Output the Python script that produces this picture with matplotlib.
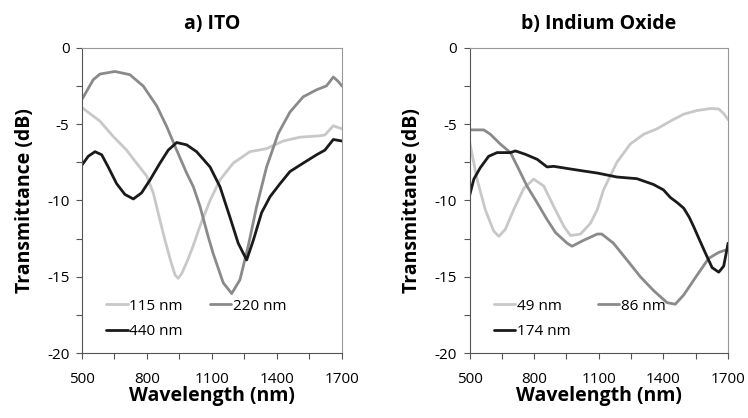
import numpy as np
import matplotlib
matplotlib.use("Agg")
import matplotlib.pyplot as plt
from matplotlib.ticker import FixedLocator

plt.rcParams['font.family'] = ['Open Sans', 'DejaVu Sans']
plt.rcParams['axes.unicode_minus'] = False

# ---- a) ITO ----
wl_115 = [500, 503, 583, 644, 706, 752, 799, 829, 860, 883, 910, 930, 944, 960, 985, 1010,
          1044, 1091, 1137, 1198, 1275, 1352, 1429, 1506, 1598, 1621, 1660, 1700]
t_115 = [-4.0, -3.94, -4.8, -5.8, -6.7, -7.55, -8.4, -9.5, -11.3, -12.6, -14.0, -14.9,
         -15.1, -14.8, -14.0, -13.1, -11.7, -10.0, -8.65, -7.55, -6.8, -6.6, -6.1, -5.85,
         -5.76, -5.7, -5.1, -5.3]

wl_220 = [500, 503, 552, 583, 652, 721, 783, 845, 891, 937, 983, 1014, 1045, 1083, 1106,
          1152, 1191, 1229, 1267, 1306, 1352, 1406, 1460, 1521, 1583, 1629, 1660, 1683, 1700]
t_220 = [-3.3, -3.3, -2.08, -1.71, -1.54, -1.75, -2.5, -3.8, -5.15, -6.7, -8.2, -9.1,
         -10.4, -12.4, -13.5, -15.4, -16.1, -15.2, -13.0, -10.4, -7.8, -5.6, -4.2, -3.2,
         -2.74, -2.48, -1.9, -2.2, -2.5]

wl_440 = [500, 529, 560, 591, 621, 660, 698, 737, 775, 814, 860, 898, 937, 983, 1029,
          1091, 1137, 1183, 1221, 1260, 1291, 1329, 1368, 1414, 1460, 1521, 1583, 1621,
          1660, 1700]
t_440 = [-7.67, -7.1, -6.8, -7.0, -7.8, -8.9, -9.6, -9.9, -9.5, -8.65, -7.55, -6.7, -6.2,
         -6.35, -6.8, -7.8, -9.1, -11.1, -12.8, -13.9, -12.6, -10.8, -9.75, -8.9, -8.1,
         -7.55, -7.0, -6.7, -6.0, -6.1]

# ---- b) Indium Oxide ----
wl_49 = [501, 535, 573, 612, 636, 666, 705, 752, 798, 845, 891, 938, 969, 1015, 1061,
         1093, 1122, 1184, 1246, 1308, 1370, 1432, 1494, 1556, 1618, 1657, 1680, 1700]
t_49 = [-6.2, -8.6, -10.6, -12.0, -12.35, -11.9, -10.6, -9.2, -8.6, -9.06, -10.4, -11.7,
        -12.3, -12.2, -11.5, -10.6, -9.3, -7.5, -6.3, -5.66, -5.3, -4.8, -4.34, -4.1,
        -3.97, -4.0, -4.3, -4.7]

wl_86 = [500, 566, 597, 643, 690, 729, 767, 814, 860, 899, 953, 976, 1031, 1093, 1114,
         1168, 1231, 1293, 1354, 1417, 1455, 1494, 1556, 1610, 1657, 1700]
t_86 = [-5.37, -5.37, -5.66, -6.3, -6.86, -7.96, -9.06, -10.15, -11.25, -12.1, -12.8,
        -13.0, -12.6, -12.2, -12.2, -12.8, -13.9, -15.0, -15.9, -16.7, -16.8, -16.2, -14.9,
        -13.8, -13.4, -13.2]

wl_174 = [500, 520, 550, 589, 628, 690, 713, 759, 814, 860, 891, 953, 1031, 1093, 1184,
          1277, 1354, 1400, 1432, 1465, 1494, 1520, 1540, 1565, 1587, 1626, 1657, 1680,
          1695, 1700]
t_174 = [-9.7, -8.6, -7.85, -7.1, -6.86, -6.86, -6.75, -6.97, -7.3, -7.8, -7.76, -7.9,
         -8.07, -8.2, -8.46, -8.57, -8.95, -9.3, -9.8, -10.15, -10.5, -11.1, -11.7, -12.5,
         -13.2, -14.4, -14.7, -14.3, -13.2, -12.8]

x_major = [500, 800, 1100, 1400, 1700]
x_minor = [650, 950, 1250, 1550]
y_major = [0, -5, -10, -15, -20]
y_minor = [-2.5, -7.5, -12.5, -17.5]

light, mid, dark = '#c8c8c8', '#8a8a8a', '#1a1a1a'

fig = plt.figure(figsize=(7.48, 4.18), dpi=100)
ax1 = fig.add_axes([0.1096, 0.1555, 0.3476, 0.7297])
ax2 = fig.add_axes([0.6277, 0.1555, 0.3456, 0.7297])

panels = [
    (ax1, 'a) ITO', [(wl_115, t_115, light, '115 nm'), (wl_220, t_220, mid, '220 nm'),
                     (wl_440, t_440, dark, '440 nm')]),
    (ax2, 'b) Indium Oxide', [(wl_49, t_49, light, '49 nm'), (wl_86, t_86, mid, '86 nm'),
                              (wl_174, t_174, dark, '174 nm')]),
]

for ax, title, series in panels:
    lines = []
    for x, y, c, lab in series:
        ln, = ax.plot(x, y, color=c, lw=2.0, label=lab, solid_joinstyle='round',
                      solid_capstyle='round')
        lines.append(ln)
    ax.set_xlim(500, 1700)
    ax.set_ylim(-20, 0)
    ax.xaxis.set_major_locator(FixedLocator(x_major))
    ax.xaxis.set_minor_locator(FixedLocator(x_minor))
    ax.yaxis.set_major_locator(FixedLocator(y_major))
    ax.yaxis.set_minor_locator(FixedLocator(y_minor))
    ax.tick_params(which='both', direction='out', length=4, width=0.8, color='#555555',
                   labelsize=11, pad=5)
    ax.tick_params(axis='x', which='both', pad=10)
    for s in ['left', 'bottom']:
        ax.spines[s].set_color('#555555')
    for s in ['top', 'right']:
        ax.spines[s].set_color('#999999')
    ax.set_xlabel('Wavelength (nm)', fontsize=14, fontweight='bold', labelpad=-1)
    ax.set_ylabel('Transmittance (dB)', fontsize=14, fontweight='bold', labelpad=9)
    ax.set_title(title, fontsize=14, fontweight='bold', pad=14)
    # order so rows read: light, mid / dark
    order = [lines[0], lines[2], lines[1]]
    ax.legend(order, [l.get_label() for l in order], loc='lower left', ncol=2,
              frameon=False, fontsize=11, handlelength=1.4, handletextpad=0.1,
              columnspacing=1.8, labelspacing=0.7, bbox_to_anchor=(0.04, 0.0))

fig.savefig('out.png', dpi=100)
